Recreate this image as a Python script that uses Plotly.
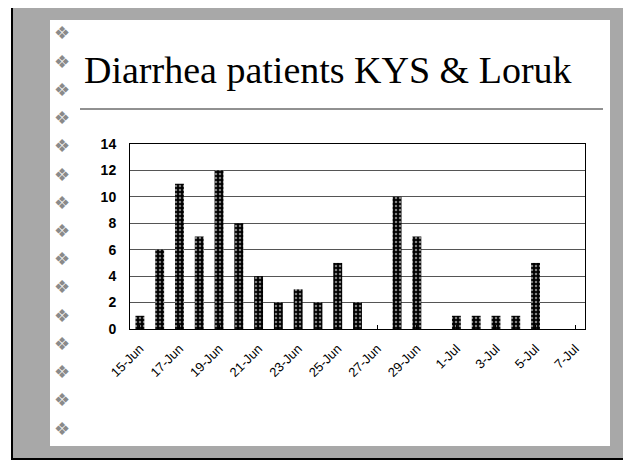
import plotly.graph_objects as go

# ---- data ----
dates = ["15-Jun", "16-Jun", "17-Jun", "18-Jun", "19-Jun", "20-Jun", "21-Jun", "22-Jun",
         "23-Jun", "24-Jun", "25-Jun", "26-Jun", "27-Jun", "28-Jun", "29-Jun", "30-Jun",
         "1-Jul", "2-Jul", "3-Jul", "4-Jul", "5-Jul", "6-Jul", "7-Jul"]
patients = [1, 6, 11, 7, 12, 8, 4, 2, 3, 2, 5, 2, 0, 10, 7, 0, 1, 1, 1, 1, 5, 0, 0]
tick_labels = dates[::2]
y_ticks = [0, 2, 4, 6, 8, 10, 12, 14]
title_text = "Diarrhea patients KYS & Loruk"

OFF = 8  # default page body margin
W, H = 631 - OFF, 461 - OFF
# plot area in page pixels
PL, PR, PT, PB = 130, 585, 144, 329
L, R, T, B = PL - OFF, PR - OFF, PT - OFF, PB - OFF


def px(x):
    return (x - PL) / (PR - PL)


def py(y):
    return (PB - y) / (PB - PT)


fig = go.Figure()
fig.add_trace(go.Bar(
    x=dates, y=patients,
    marker=dict(color="black", line=dict(color="black", width=0),
                pattern=dict(shape=".", fgcolor="white", bgcolor="black",
                             size=4, solidity=0.3)),
    width=0.45,
    showlegend=False,
))

shapes = []
# slide frame (stippled band approximated by gray)
shapes.append(dict(type="rect", xref="paper", yref="paper",
                   x0=px(12), x1=px(626), y0=py(459), y1=py(5),
                   fillcolor="#a8a8a8", line=dict(color="black", width=2), layer="below"))
shapes.append(dict(type="rect", xref="paper", yref="paper",
                   x0=px(50), x1=px(610), y0=py(446), y1=py(20),
                   fillcolor="white", line=dict(width=0), layer="below"))
# title underline
shapes.append(dict(type="line", xref="paper", yref="paper",
                   x0=px(80), x1=px(603), y0=py(109), y1=py(109),
                   line=dict(color="#222222", width=1)))

annotations = [dict(text=title_text, xref="paper", yref="paper",
                    x=px(328), y=py(70), xanchor="center", yanchor="middle",
                    showarrow=False,
                    font=dict(family="Liberation Serif", size=38, color="black"))]
# bullets column
n_b = 15
for i in range(n_b):
    yy = 33 + i * (428 - 33) / (n_b - 1)
    annotations.append(dict(text="❖", xref="paper", yref="paper",
                            x=px(62), y=py(yy), xanchor="center", yanchor="middle",
                            showarrow=False,
                            font=dict(family="DejaVu Sans", size=18, color="#8a8a8a")))

fig.update_layout(
    width=W, height=H,
    margin=dict(l=L, r=W - R, t=T, b=H - B, pad=0),
    paper_bgcolor="white", plot_bgcolor="white",
    shapes=shapes, annotations=annotations,
    xaxis=dict(type="category", tickvals=tick_labels, ticktext=tick_labels,
               tickangle=-45, showgrid=False, showline=True, linecolor="black",
               linewidth=1, mirror=True, ticks="inside", ticklen=4, tickcolor="black",
               ticklabelstandoff=6,
               tickfont=dict(family="Liberation Sans", size=13, color="black"),
               range=[-0.5, len(dates) - 0.5]),
    yaxis=dict(range=[0, 14], tickvals=y_ticks, showgrid=True, gridcolor="#555555",
               gridwidth=1, showline=True, linecolor="black", linewidth=1, mirror=True,
               zeroline=False, ticks="", ticklabelstandoff=10,
               tickfont=dict(family="Liberation Sans", size=14, color="black",
                             weight="bold")),
)

fig.write_html("out.html")
